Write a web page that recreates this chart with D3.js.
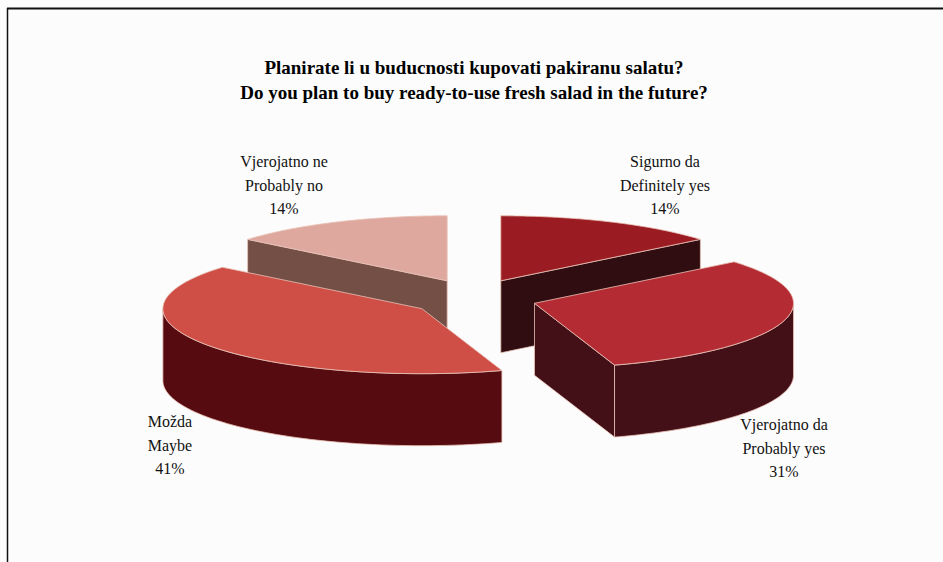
<!DOCTYPE html>
<html>
<head>
<meta charset="utf-8">
<script src="https://cdn.jsdelivr.net/npm/d3@7"></script>
<style>
  html, body { margin: 0; padding: 0; background: #fcfcfc; }
  svg { display: block; }
</style>
</head>
<body>
<svg id="chart" width="943" height="562"></svg>
<script>
// ---- data ----
const titleLines = ["Planirate li u buducnosti kupovati pakiranu salatu?",
                    "Do you plan to buy ready-to-use fresh salad in the future?"];
const categoriesHr = ["Sigurno da", "Vjerojatno da", "Možda", "Vjerojatno ne"];
const categoriesEn = ["Definitely yes", "Probably yes", "Maybe", "Probably no"];
const values = [14, 31, 41, 14];
const pctLabels = ["14%", "31%", "41%", "14%"];

// ---- styles / layout ----
const topColors  = ["#9a1b22", "#b42b33", "#cf4e45", "#dea89f"];
const sideColors = ["#300d10", "#441017", "#560b10", "#744f46"];
const labelPos = [[665, 167], [784, 430], [170, 427], [284, 167]];

const W = 943, H = 562;
const cx = 474, cy = 298, rx = 259, ry = 65, depth = 72;
const explodeX = 63, explodeY = 19;
const edge = "#e8c2b6";

const svg = d3.select("#chart");
svg.append("rect").attr("x", 0).attr("y", 0).attr("width", W).attr("height", H).attr("fill", "#fcfcfc");
// frame
svg.append("line").attr("x1", 7).attr("y1", 8.5).attr("x2", W).attr("y2", 8.5)
   .attr("stroke", "#111").attr("stroke-width", 2);
svg.append("line").attr("x1", 7.5).attr("y1", 8).attr("x2", 7.5).attr("y2", H)
   .attr("stroke", "#111").attr("stroke-width", 1.5);

// title
svg.append("g").selectAll("text").data(titleLines).join("text")
  .attr("x", cx).attr("y", (d, i) => 74 + i * 25)
  .attr("text-anchor", "middle")
  .attr("font-family", "'Liberation Serif', 'Times New Roman', serif")
  .attr("font-weight", "bold").attr("font-size", 19).attr("fill", "#000")
  .text(d => d);

const pie = d3.pie().sort(null).value(d => d);
const arcs = pie(values);

// projection scales (unit circle -> screen ellipse)
const sx = d3.scaleLinear().domain([-1, 1]).range([-rx, rx]);
const sy = d3.scaleLinear().domain([-1, 1]).range([-ry, ry]);
const line = d3.line();

function pt(c, a, dz) { return [c[0] + sx(Math.sin(a)), c[1] + sy(-Math.cos(a)) + dz]; }

const slices = arcs.map((a, i) => {
  const mid = (a.startAngle + a.endAngle) / 2;
  const c = [cx + explodeX * Math.sin(mid), cy - explodeY * Math.cos(mid)];
  return { a, i, c };
}).sort((p, q) => p.c[1] - q.c[1]);

const g = svg.append("g");
slices.forEach(({ a, i, c }) => {
  const a0 = a.startAngle, a1 = a.endAngle;
  const sg = g.append("g");
  const cb = [c[0], c[1] + depth];
  // radial faces
  if (Math.sin(a0) < -1e-6) {
    sg.append("path").attr("d", line([c, pt(c, a0, 0), pt(c, a0, depth), cb]) + "Z")
      .attr("fill", sideColors[i]).attr("stroke", edge).attr("stroke-width", 0.8);
  }
  if (Math.sin(a1) > 1e-6) {
    sg.append("path").attr("d", line([c, pt(c, a1, 0), pt(c, a1, depth), cb]) + "Z")
      .attr("fill", sideColors[i]).attr("stroke", edge).attr("stroke-width", 0.8);
  }
  // outer wall (front half only)
  const w0 = Math.max(a0, Math.PI / 2), w1 = Math.min(a1, 3 * Math.PI / 2);
  if (w1 > w0) {
    const n = 60;
    const angs = d3.range(n + 1).map(k => w0 + (w1 - w0) * k / n);
    const topPts = angs.map(t => pt(c, t, 0));
    const botPts = angs.slice().reverse().map(t => pt(c, t, depth));
    sg.append("path").attr("d", line(topPts.concat(botPts)) + "Z")
      .attr("fill", sideColors[i]).attr("stroke", edge).attr("stroke-width", 0.8);
  }
  // top face
  const n2 = 80;
  const tp = d3.range(n2 + 1).map(k => pt(c, a0 + (a1 - a0) * k / n2, 0));
  sg.append("path").attr("d", line([c].concat(tp)) + "Z")
    .attr("fill", topColors[i]).attr("stroke", edge).attr("stroke-width", 0.8);
});

// labels
const lg = svg.append("g")
  .attr("font-family", "'Liberation Serif', 'Times New Roman', serif")
  .attr("font-size", 16).attr("fill", "#111").attr("text-anchor", "middle");
arcs.forEach((a, i) => {
  const [x, y] = labelPos[i];
  [categoriesHr[i], categoriesEn[i], pctLabels[i]].forEach((t, k) => {
    lg.append("text").attr("x", x).attr("y", y + k * 23.5).text(t);
  });
});
</script>
</body>
</html>
